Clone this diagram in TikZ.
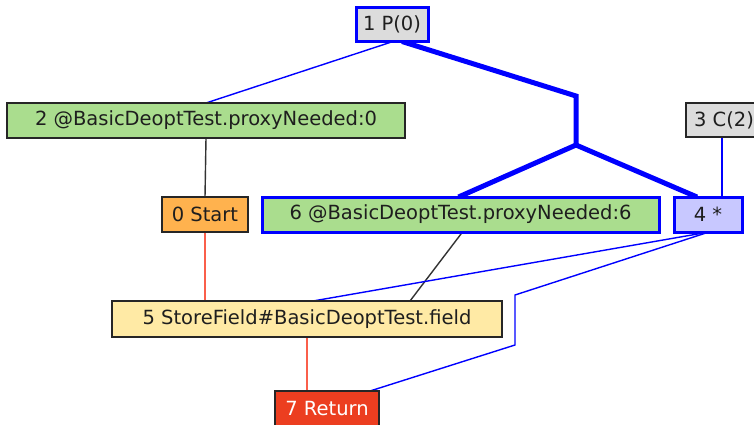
\documentclass[tikz,border=0pt]{standalone}
\usepackage{fontspec}
\setmainfont{DejaVu Sans}
\usetikzlibrary{backgrounds}
\definecolor{gfill}{RGB}{170,221,142}
\definecolor{ofill}{RGB}{255,178,78}
\definecolor{yfill}{RGB}{255,234,165}
\definecolor{grfill}{RGB}{220,220,220}
\definecolor{lfill}{RGB}{200,200,255}
\definecolor{rfill}{RGB}{236,62,32}
\definecolor{redge}{RGB}{250,95,75}
\definecolor{txt}{RGB}{30,30,30}
\tikzset{
  box/.style={rectangle, draw=black!85, line width=1.5pt, inner sep=0pt, outer sep=0pt, text=txt, font=\fontsize{19.5}{22}\selectfont},
  bluebox/.style={box, draw=blue, line width=3pt},
  thinblue/.style={draw=blue, line width=1.4pt},
  thickblue/.style={draw=blue, line width=5pt, line join=miter},
  blackedge/.style={draw=black!80, line width=1.4pt},
  rededge/.style={draw=redge, line width=2.6pt},
}
\begin{document}
\begin{tikzpicture}[x=1pt,y=-1pt]
\useasboundingbox (0,0) rectangle (754,425);
\begin{scope}
\clip (0,0) rectangle (754,425);
\node[bluebox, fill=grfill, minimum width=72pt, minimum height=34pt] (n1) at (392,24.5) {1 P(0)};
\node[box, fill=gfill, minimum width=398pt, minimum height=35pt] (n2) at (206,120.5) {2 @BasicDeoptTest.proxyNeeded:0};
\node[box, fill=grfill, minimum width=76pt, minimum height=34pt] (n3) at (724,120) {3 C(2)};
\node[box, fill=ofill, minimum width=86pt, minimum height=35pt] (n0) at (205,214.5) {0 Start};
\node[bluebox, fill=gfill, minimum width=397pt, minimum height=35pt] (n6) at (460.5,214.5) {6 @BasicDeoptTest.proxyNeeded:6};
\node[bluebox, fill=lfill, minimum width=68pt, minimum height=35pt] (n4) at (708,214.5) {4 *};
\node[box, fill=yfill, minimum width=390pt, minimum height=36pt] (n5) at (307,319) {5 StoreField\#BasicDeoptTest.field};
\node[box, fill=rfill, text=white, minimum width=104pt, minimum height=35pt] (n7) at (327,408.5) {7 Return};
\end{scope}
\begin{scope}[on background layer]
\fill[white] (0,0) rectangle (754,425);
\draw[thinblue] ([xshift=1pt]n1.south) -- (n2.north);
\draw[thickblue] ([xshift=10pt]n1.south) -- (576,96) -- (576,145) coordinate (split);
\draw[thickblue] (split) -- ([xshift=-2pt]n6.north);
\draw[thickblue] (split) -- ([xshift=-11pt]n4.north);
\draw[thinblue] ([xshift=-2pt]n3.south) -- ([xshift=14pt]n4.north);
\draw[blackedge] (n2.south) -- (n0.north);
\draw[rededge] (n0.south) -- (n0.south |- n5.north);
\draw[blackedge] ([xshift=2pt]n6.south) -- ([xshift=103pt]n5.north);
\draw[thinblue] ([xshift=1pt]n4.south) -- ([xshift=6pt]n5.north);
\draw[thinblue] ([xshift=1pt]n4.south) -- (515,295) -- (515,345) -- ([xshift=43pt]n7.north);
\draw[rededge] (n5.south) -- (n5.south |- n7.north);
\end{scope}
\end{tikzpicture}
\end{document}
